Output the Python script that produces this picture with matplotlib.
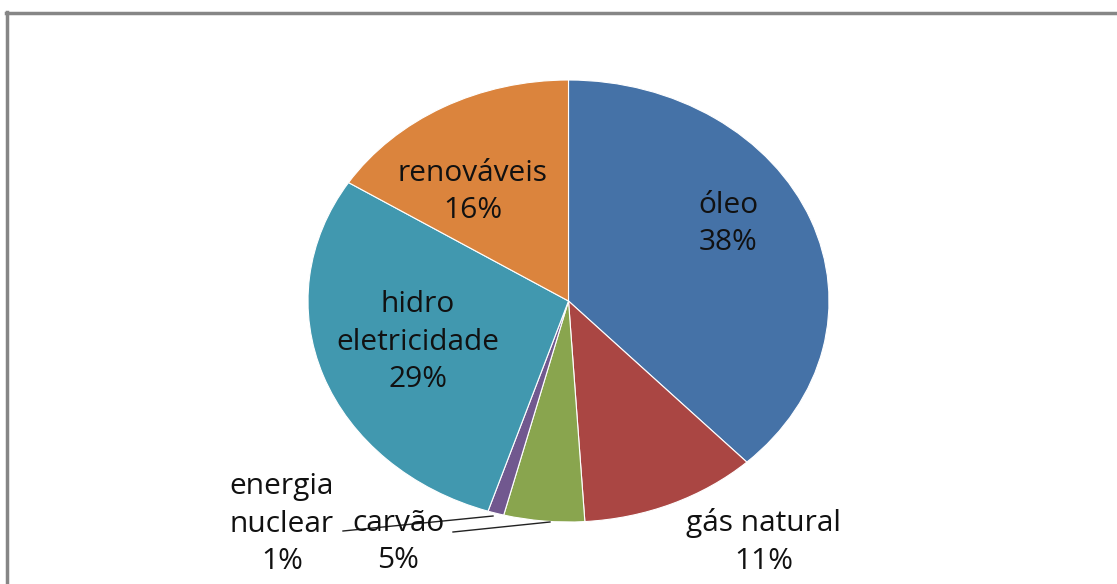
import matplotlib
matplotlib.use("Agg")
import matplotlib.pyplot as plt
from matplotlib.lines import Line2D

categories = ["óleo", "gás natural", "carvão", "energia\nnuclear", "hidro\neletricidade", "renováveis"]
values = [38, 11, 5, 1, 29, 16]
colors = ["#4572A7", "#AA4643", "#89A54E", "#71588F", "#4198AF", "#DB843D"]

W, H = 1117, 584
fig = plt.figure(figsize=(W / 100, H / 100), dpi=100)
fig.patch.set_facecolor("white")

# frame lines (left & top, others cut off)
fig.add_artist(Line2D([7 / W, 7 / W], [0, 1 - 12 / H], transform=fig.transFigure, color="#868686", lw=2.5))
fig.add_artist(Line2D([6 / W, 1], [1 - 13 / H, 1 - 13 / H], transform=fig.transFigure, color="#868686", lw=2.5))

cx, cy, rx, ry = 568.5, 301, 260.5, 221
ax = fig.add_axes([(cx - rx) / W, (H - (cy + ry)) / H, 2 * rx / W, 2 * ry / H])

ax.pie(values, colors=colors, startangle=90, counterclock=False, radius=1,
       wedgeprops=dict(edgecolor="white", linewidth=0.8))
ax.set_aspect("auto")
ax.set_xlim(-1, 1)
ax.set_ylim(-1, 1)
ax.axis("off")

def d(x, y):
    return (x - cx) / rx, (cy - y) / ry

label_pos = [(728, 224), (764, 542), (398, 542), (282, 524), (418, 342), (473, 192)]
font = dict(family=["Open Sans", "DejaVu Sans"], fontsize=21.5, color="#111111")
for cat, v, (px, py) in zip(categories, values, label_pos):
    x, y = d(px, py)
    ax.text(x, y, f"{cat}\n{v}%", ha="center", va="center", multialignment="center",
            linespacing=1.38, clip_on=False, **font)

# leader lines
for (x0, y0), (x1, y1) in [((343, 531), (493, 516)), ((453, 532), (550, 522))]:
    a, b = d(x0, y0)
    c, e = d(x1, y1)
    ax.plot([a, c], [b, e], color="#222222", lw=1, clip_on=False)

fig.savefig("out.png", dpi=100)
